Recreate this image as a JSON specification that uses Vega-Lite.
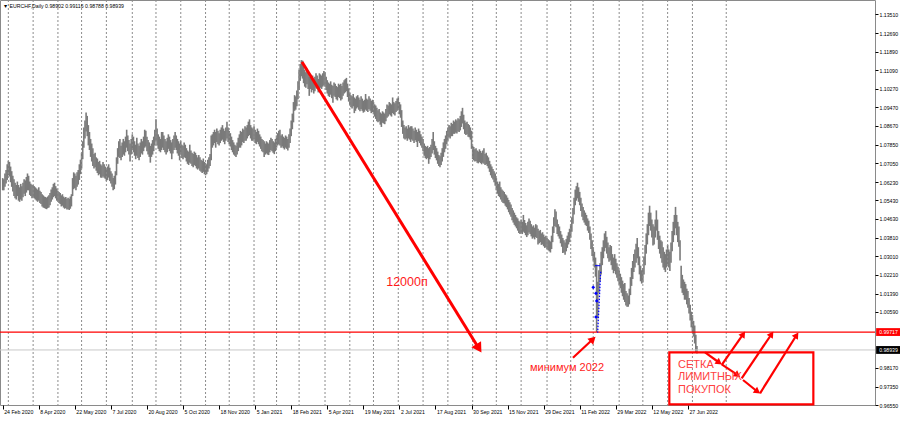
{
"$schema":"https://vega.github.io/schema/vega-lite/v6.json",
"width":875,"height":405,
"autosize":{"type":"none"},
"padding":{"left":0,"top":0,"right":25,"bottom":17},
"background":"white",
"config":{"view":{"stroke":"#8a8a8a","strokeWidth":1},"font":"Liberation Sans",
 "axis":{"title":null,"grid":false,"domain":false,"labelFontSize":5.2,"labelFont":"Liberation Sans","labelColor":"#000000","tickColor":"#000000","labelOverlap":false,"labelFlush":false,"labelBound":false}},
"datasets":{
"grid":[{"i":5},{"i":27},{"i":49},{"i":70},{"i":92},{"i":115},{"i":136},{"i":158},{"i":180},{"i":201},{"i":223},{"i":243},{"i":263},{"i":286},{"i":308},{"i":329},{"i":351},{"i":373},{"i":395},{"i":417},{"i":438},{"i":460},{"i":483},{"i":504},{"i":524},{"i":547},{"i":568},{"i":590},{"i":612},{"i":642}],
"bars":[
{"i":0,"h":1.064,"l":1.0587},{"i":1,"h":1.0635,"l":1.0587},{"i":2,"h":1.066,"l":1.0602},{"i":3,"h":1.0675,"l":1.0617},{"i":4,"h":1.07,"l":1.0632},{"i":5,"h":1.0715,"l":1.0652},{"i":6,"h":1.071,"l":1.0647},{"i":7,"h":1.069,"l":1.0622},{"i":8,"h":1.067,"l":1.0602},{"i":9,"h":1.065,"l":1.0582},
{"i":10,"h":1.0635,"l":1.0562},{"i":11,"h":1.062,"l":1.0552},{"i":12,"h":1.061,"l":1.0547},{"i":13,"h":1.0625,"l":1.0562},{"i":14,"h":1.061,"l":1.0542},{"i":15,"h":1.06,"l":1.0537},{"i":16,"h":1.0615,"l":1.0547},{"i":17,"h":1.0605,"l":1.0542},{"i":18,"h":1.062,"l":1.0557},{"i":19,"h":1.0635,"l":1.0572},
{"i":20,"h":1.063,"l":1.0562},{"i":21,"h":1.0645,"l":1.0577},{"i":22,"h":1.066,"l":1.0587},{"i":23,"h":1.065,"l":1.0587},{"i":24,"h":1.0625,"l":1.0567},{"i":25,"h":1.0615,"l":1.0562},{"i":26,"h":1.061,"l":1.0552},{"i":27,"h":1.061,"l":1.0557},{"i":28,"h":1.0605,"l":1.0552},{"i":29,"h":1.06,"l":1.0547},
{"i":30,"h":1.0595,"l":1.0542},{"i":31,"h":1.059,"l":1.0537},{"i":32,"h":1.06,"l":1.0542},{"i":33,"h":1.0585,"l":1.0532},{"i":34,"h":1.058,"l":1.0527},{"i":35,"h":1.057,"l":1.0517},{"i":36,"h":1.0565,"l":1.0512},{"i":37,"h":1.056,"l":1.051},{"i":38,"h":1.0558,"l":1.0507},{"i":39,"h":1.0555,"l":1.0505},
{"i":40,"h":1.056,"l":1.051},{"i":41,"h":1.0565,"l":1.0512},{"i":42,"h":1.0575,"l":1.0522},{"i":43,"h":1.059,"l":1.0537},{"i":44,"h":1.06,"l":1.0547},{"i":45,"h":1.0615,"l":1.0557},{"i":46,"h":1.062,"l":1.0562},{"i":47,"h":1.0605,"l":1.0552},{"i":48,"h":1.0595,"l":1.0542},{"i":49,"h":1.0585,"l":1.0537},
{"i":50,"h":1.058,"l":1.0532},{"i":51,"h":1.0575,"l":1.0527},{"i":52,"h":1.0565,"l":1.0517},{"i":53,"h":1.057,"l":1.052},{"i":54,"h":1.056,"l":1.0512},{"i":55,"h":1.0555,"l":1.0507},{"i":56,"h":1.0558,"l":1.051},{"i":57,"h":1.055,"l":1.0504},{"i":58,"h":1.0555,"l":1.0505},{"i":59,"h":1.055,"l":1.0502},
{"i":60,"h":1.056,"l":1.0507},{"i":61,"h":1.057,"l":1.0517},{"i":62,"h":1.064,"l":1.0562},{"i":63,"h":1.0665,"l":1.0592},{"i":64,"h":1.066,"l":1.0597},{"i":65,"h":1.065,"l":1.0587},{"i":66,"h":1.0665,"l":1.0602},{"i":67,"h":1.0675,"l":1.0612},{"i":68,"h":1.07,"l":1.0632},{"i":69,"h":1.072,"l":1.0657},
{"i":70,"h":1.075,"l":1.0682},{"i":71,"h":1.08,"l":1.0722},{"i":72,"h":1.086,"l":1.0772},{"i":73,"h":1.089,"l":1.0812},{"i":74,"h":1.0925,"l":1.0842},{"i":75,"h":1.091,"l":1.0822},{"i":76,"h":1.087,"l":1.0782},{"i":77,"h":1.084,"l":1.0762},{"i":78,"h":1.081,"l":1.0732},{"i":79,"h":1.079,"l":1.0712},
{"i":80,"h":1.077,"l":1.0692},{"i":81,"h":1.0745,"l":1.0682},{"i":82,"h":1.075,"l":1.0687},{"i":83,"h":1.073,"l":1.0672},{"i":84,"h":1.0725,"l":1.0662},{"i":85,"h":1.071,"l":1.0652},{"i":86,"h":1.0715,"l":1.0657},{"i":87,"h":1.07,"l":1.0642},{"i":88,"h":1.0695,"l":1.0642},{"i":89,"h":1.071,"l":1.0647},
{"i":90,"h":1.07,"l":1.0642},{"i":91,"h":1.069,"l":1.0637},{"i":92,"h":1.068,"l":1.0627},{"i":93,"h":1.069,"l":1.0632},{"i":94,"h":1.07,"l":1.0642},{"i":95,"h":1.0685,"l":1.0627},{"i":96,"h":1.067,"l":1.0617},{"i":97,"h":1.066,"l":1.0602},{"i":98,"h":1.064,"l":1.0587},{"i":99,"h":1.065,"l":1.0592},
{"i":100,"h":1.067,"l":1.0612},{"i":101,"h":1.073,"l":1.0652},{"i":102,"h":1.077,"l":1.0702},{"i":103,"h":1.08,"l":1.0732},{"i":104,"h":1.081,"l":1.0727},{"i":105,"h":1.078,"l":1.0717},{"i":106,"h":1.0795,"l":1.0732},{"i":107,"h":1.081,"l":1.0742},{"i":108,"h":1.08,"l":1.0737},{"i":109,"h":1.082,"l":1.0752},
{"i":110,"h":1.085,"l":1.0772},{"i":111,"h":1.0825,"l":1.0757},{"i":112,"h":1.0805,"l":1.0742},{"i":113,"h":1.079,"l":1.0712},{"i":114,"h":1.081,"l":1.0742},{"i":115,"h":1.083,"l":1.0762},{"i":116,"h":1.082,"l":1.0752},{"i":117,"h":1.08,"l":1.0737},{"i":118,"h":1.0785,"l":1.0722},{"i":119,"h":1.0815,"l":1.0737},
{"i":120,"h":1.079,"l":1.0727},{"i":121,"h":1.078,"l":1.0717},{"i":122,"h":1.0795,"l":1.0732},{"i":123,"h":1.081,"l":1.0747},{"i":124,"h":1.08,"l":1.0742},{"i":125,"h":1.082,"l":1.0757},{"i":126,"h":1.085,"l":1.0772},{"i":127,"h":1.0845,"l":1.0777},{"i":128,"h":1.082,"l":1.0757},{"i":129,"h":1.0805,"l":1.0742},
{"i":130,"h":1.0795,"l":1.0732},{"i":131,"h":1.078,"l":1.0707},{"i":132,"h":1.079,"l":1.0732},{"i":133,"h":1.0805,"l":1.0742},{"i":134,"h":1.082,"l":1.0757},{"i":135,"h":1.085,"l":1.0782},{"i":136,"h":1.0895,"l":1.0802},{"i":137,"h":1.0855,"l":1.0782},{"i":138,"h":1.083,"l":1.0767},{"i":139,"h":1.082,"l":1.0757},
{"i":140,"h":1.081,"l":1.0752},{"i":141,"h":1.084,"l":1.0762},{"i":142,"h":1.084,"l":1.0772},{"i":143,"h":1.0825,"l":1.0762},{"i":144,"h":1.081,"l":1.0752},{"i":145,"h":1.08,"l":1.0742},{"i":146,"h":1.0815,"l":1.0752},{"i":147,"h":1.083,"l":1.0767},{"i":148,"h":1.082,"l":1.0757},{"i":149,"h":1.0805,"l":1.0747},
{"i":150,"h":1.0795,"l":1.0722},{"i":151,"h":1.081,"l":1.0747},{"i":152,"h":1.0825,"l":1.0762},{"i":153,"h":1.084,"l":1.0772},{"i":154,"h":1.0825,"l":1.0762},{"i":155,"h":1.081,"l":1.0747},{"i":156,"h":1.08,"l":1.0737},{"i":157,"h":1.079,"l":1.0717},{"i":158,"h":1.08,"l":1.0742},{"i":159,"h":1.0785,"l":1.0727},
{"i":160,"h":1.078,"l":1.0722},{"i":161,"h":1.0795,"l":1.0732},{"i":162,"h":1.0785,"l":1.0727},{"i":163,"h":1.077,"l":1.0712},{"i":164,"h":1.076,"l":1.0702},{"i":165,"h":1.0755,"l":1.0697},{"i":166,"h":1.0785,"l":1.0707},{"i":167,"h":1.076,"l":1.0702},{"i":168,"h":1.075,"l":1.0692},{"i":169,"h":1.0745,"l":1.0687},
{"i":170,"h":1.0755,"l":1.0697},{"i":171,"h":1.075,"l":1.0692},{"i":172,"h":1.074,"l":1.0682},{"i":173,"h":1.073,"l":1.0677},{"i":174,"h":1.074,"l":1.0682},{"i":175,"h":1.073,"l":1.0672},{"i":176,"h":1.072,"l":1.0667},{"i":177,"h":1.0715,"l":1.0662},{"i":178,"h":1.0725,"l":1.0667},{"i":179,"h":1.071,"l":1.0657},
{"i":180,"h":1.0705,"l":1.0652},{"i":181,"h":1.07,"l":1.0657},{"i":182,"h":1.072,"l":1.0667},{"i":183,"h":1.073,"l":1.0682},{"i":184,"h":1.0745,"l":1.0692},{"i":185,"h":1.0825,"l":1.0717},{"i":186,"h":1.083,"l":1.0772},{"i":187,"h":1.084,"l":1.0782},{"i":188,"h":1.085,"l":1.0792},{"i":189,"h":1.084,"l":1.0772},
{"i":190,"h":1.0855,"l":1.0797},{"i":191,"h":1.0845,"l":1.0787},{"i":192,"h":1.0835,"l":1.0782},{"i":193,"h":1.085,"l":1.0792},{"i":194,"h":1.086,"l":1.0802},{"i":195,"h":1.087,"l":1.0807},{"i":196,"h":1.0855,"l":1.0797},{"i":197,"h":1.0845,"l":1.0787},{"i":198,"h":1.086,"l":1.0802},{"i":199,"h":1.0885,"l":1.0812},
{"i":200,"h":1.086,"l":1.0797},{"i":201,"h":1.0845,"l":1.0787},{"i":202,"h":1.0835,"l":1.0777},{"i":203,"h":1.082,"l":1.0762},{"i":204,"h":1.0805,"l":1.0752},{"i":205,"h":1.0795,"l":1.0742},{"i":206,"h":1.0785,"l":1.0737},{"i":207,"h":1.078,"l":1.0732},{"i":208,"h":1.0795,"l":1.0742},{"i":209,"h":1.0815,"l":1.0757},
{"i":210,"h":1.083,"l":1.0772},{"i":211,"h":1.0845,"l":1.0772},{"i":212,"h":1.084,"l":1.0782},{"i":213,"h":1.0855,"l":1.0797},{"i":214,"h":1.085,"l":1.0792},{"i":215,"h":1.0865,"l":1.0802},{"i":216,"h":1.086,"l":1.0802},{"i":217,"h":1.087,"l":1.0812},{"i":218,"h":1.0885,"l":1.0822},{"i":219,"h":1.0895,"l":1.0827},
{"i":220,"h":1.087,"l":1.0812},{"i":221,"h":1.086,"l":1.0802},{"i":222,"h":1.0855,"l":1.0802},{"i":223,"h":1.0865,"l":1.0807},{"i":224,"h":1.085,"l":1.0792},{"i":225,"h":1.084,"l":1.0787},{"i":226,"h":1.0855,"l":1.0797},{"i":227,"h":1.0845,"l":1.0787},{"i":228,"h":1.083,"l":1.0777},{"i":229,"h":1.082,"l":1.0767},
{"i":230,"h":1.081,"l":1.0757},{"i":231,"h":1.0805,"l":1.0752},{"i":232,"h":1.08,"l":1.0732},{"i":233,"h":1.079,"l":1.0742},{"i":234,"h":1.08,"l":1.0747},{"i":235,"h":1.0795,"l":1.0742},{"i":236,"h":1.079,"l":1.074},{"i":237,"h":1.0805,"l":1.0752},{"i":238,"h":1.0815,"l":1.0762},{"i":239,"h":1.081,"l":1.0757},
{"i":240,"h":1.08,"l":1.075},{"i":241,"h":1.0795,"l":1.0744},{"i":242,"h":1.081,"l":1.0757},{"i":243,"h":1.0825,"l":1.0772},{"i":244,"h":1.0835,"l":1.0782},{"i":245,"h":1.0845,"l":1.0787},{"i":246,"h":1.085,"l":1.0782},{"i":247,"h":1.0825,"l":1.0772},{"i":248,"h":1.083,"l":1.0777},{"i":249,"h":1.082,"l":1.077},
{"i":250,"h":1.0815,"l":1.0764},{"i":251,"h":1.0825,"l":1.0772},{"i":252,"h":1.082,"l":1.0767},{"i":253,"h":1.081,"l":1.076},{"i":254,"h":1.083,"l":1.0772},{"i":255,"h":1.0855,"l":1.0792},{"i":256,"h":1.089,"l":1.0822},{"i":257,"h":1.092,"l":1.0852},{"i":258,"h":1.097,"l":1.0882},{"i":259,"h":1.1,"l":1.0932},
{"i":260,"h":1.0995,"l":1.0937},{"i":261,"h":1.102,"l":1.0952},{"i":262,"h":1.106,"l":1.0982},{"i":263,"h":1.111,"l":1.1022},{"i":264,"h":1.1135,"l":1.1062},{"i":265,"h":1.1152,"l":1.1082},{"i":266,"h":1.115,"l":1.1072},{"i":267,"h":1.113,"l":1.1052},{"i":268,"h":1.111,"l":1.1037},{"i":269,"h":1.11,"l":1.1032},
{"i":270,"h":1.1115,"l":1.1047},{"i":271,"h":1.1095,"l":1.1027},{"i":272,"h":1.108,"l":1.0997},{"i":273,"h":1.109,"l":1.1027},{"i":274,"h":1.1075,"l":1.1012},{"i":275,"h":1.1085,"l":1.1022},{"i":276,"h":1.107,"l":1.1007},{"i":277,"h":1.108,"l":1.1017},{"i":278,"h":1.1095,"l":1.1032},{"i":279,"h":1.1085,"l":1.1027},
{"i":280,"h":1.107,"l":1.1012},{"i":281,"h":1.1095,"l":1.1022},{"i":282,"h":1.109,"l":1.1032},{"i":283,"h":1.1085,"l":1.1027},{"i":284,"h":1.1095,"l":1.1037},{"i":285,"h":1.1105,"l":1.1042},{"i":286,"h":1.11,"l":1.1037},{"i":287,"h":1.108,"l":1.1022},{"i":288,"h":1.1065,"l":1.1007},{"i":289,"h":1.1055,"l":1.0997},
{"i":290,"h":1.105,"l":1.0992},{"i":291,"h":1.106,"l":1.1002},{"i":292,"h":1.1045,"l":1.0987},{"i":293,"h":1.104,"l":1.0967},{"i":294,"h":1.1055,"l":1.0997},{"i":295,"h":1.105,"l":1.0992},{"i":296,"h":1.104,"l":1.0982},{"i":297,"h":1.1035,"l":1.0977},{"i":298,"h":1.105,"l":1.0992},{"i":299,"h":1.1045,"l":1.0987},
{"i":300,"h":1.105,"l":1.0977},{"i":301,"h":1.104,"l":1.0982},{"i":302,"h":1.1055,"l":1.0997},{"i":303,"h":1.1065,"l":1.1007},{"i":304,"h":1.107,"l":1.1012},{"i":305,"h":1.1075,"l":1.1017},{"i":306,"h":1.105,"l":1.0992},{"i":307,"h":1.103,"l":1.0972},{"i":308,"h":1.101,"l":1.0957},{"i":309,"h":1.1,"l":1.0947},
{"i":310,"h":1.0995,"l":1.0942},{"i":311,"h":1.1005,"l":1.0952},{"i":312,"h":1.099,"l":1.0922},{"i":313,"h":1.0985,"l":1.0932},{"i":314,"h":1.0995,"l":1.0942},{"i":315,"h":1.1,"l":1.0947},{"i":316,"h":1.099,"l":1.0937},{"i":317,"h":1.098,"l":1.093},{"i":318,"h":1.0995,"l":1.094},{"i":319,"h":1.0985,"l":1.0932},
{"i":320,"h":1.0975,"l":1.0924},{"i":321,"h":1.098,"l":1.0928},{"i":322,"h":1.1005,"l":1.0937},{"i":323,"h":1.0985,"l":1.0932},{"i":324,"h":1.098,"l":1.0927},{"i":325,"h":1.0995,"l":1.094},{"i":326,"h":1.0985,"l":1.0932},{"i":327,"h":1.0975,"l":1.0922},{"i":328,"h":1.098,"l":1.0927},{"i":329,"h":1.097,"l":1.0917},
{"i":330,"h":1.096,"l":1.0907},{"i":331,"h":1.0955,"l":1.0897},{"i":332,"h":1.0945,"l":1.0887},{"i":333,"h":1.0935,"l":1.0882},{"i":334,"h":1.094,"l":1.0887},{"i":335,"h":1.0925,"l":1.0872},{"i":336,"h":1.092,"l":1.0862},{"i":337,"h":1.093,"l":1.088},{"i":338,"h":1.0925,"l":1.0877},{"i":339,"h":1.092,"l":1.0874},
{"i":340,"h":1.094,"l":1.0887},{"i":341,"h":1.096,"l":1.0902},{"i":342,"h":1.0955,"l":1.0907},{"i":343,"h":1.097,"l":1.0917},{"i":344,"h":1.0965,"l":1.0912},{"i":345,"h":1.096,"l":1.0907},{"i":346,"h":1.099,"l":1.0922},{"i":347,"h":1.097,"l":1.0917},{"i":348,"h":1.0965,"l":1.0912},{"i":349,"h":1.0975,"l":1.0927},
{"i":350,"h":1.0985,"l":1.0932},{"i":351,"h":1.099,"l":1.0937},{"i":352,"h":1.097,"l":1.0917},{"i":353,"h":1.096,"l":1.0902},{"i":354,"h":1.0935,"l":1.0862},{"i":355,"h":1.089,"l":1.0832},{"i":356,"h":1.087,"l":1.0812},{"i":357,"h":1.086,"l":1.0807},{"i":358,"h":1.0865,"l":1.0812},{"i":359,"h":1.0855,"l":1.0802},
{"i":360,"h":1.087,"l":1.0812},{"i":361,"h":1.086,"l":1.0807},{"i":362,"h":1.0865,"l":1.0797},{"i":363,"h":1.0865,"l":1.0807},{"i":364,"h":1.0855,"l":1.0802},{"i":365,"h":1.0845,"l":1.0792},{"i":366,"h":1.086,"l":1.0804},{"i":367,"h":1.085,"l":1.0797},{"i":368,"h":1.084,"l":1.0775},{"i":369,"h":1.0855,"l":1.08},
{"i":370,"h":1.0845,"l":1.0792},{"i":371,"h":1.083,"l":1.0782},{"i":372,"h":1.082,"l":1.0772},{"i":373,"h":1.081,"l":1.0757},{"i":374,"h":1.079,"l":1.0737},{"i":375,"h":1.078,"l":1.0727},{"i":376,"h":1.0775,"l":1.0722},{"i":377,"h":1.078,"l":1.0727},{"i":378,"h":1.077,"l":1.0702},{"i":379,"h":1.0775,"l":1.0722},
{"i":380,"h":1.0785,"l":1.0732},{"i":381,"h":1.081,"l":1.0747},{"i":382,"h":1.084,"l":1.0762},{"i":383,"h":1.08,"l":1.0742},{"i":384,"h":1.078,"l":1.0727},{"i":385,"h":1.077,"l":1.0717},{"i":386,"h":1.0755,"l":1.0702},{"i":387,"h":1.074,"l":1.0692},{"i":388,"h":1.0735,"l":1.0687},{"i":389,"h":1.075,"l":1.0697},
{"i":390,"h":1.077,"l":1.0712},{"i":391,"h":1.0795,"l":1.0732},{"i":392,"h":1.081,"l":1.0752},{"i":393,"h":1.0825,"l":1.0767},{"i":394,"h":1.0845,"l":1.0787},{"i":395,"h":1.086,"l":1.0802},{"i":396,"h":1.087,"l":1.0817},{"i":397,"h":1.0865,"l":1.0812},{"i":398,"h":1.088,"l":1.0822},{"i":399,"h":1.0875,"l":1.0822},
{"i":400,"h":1.089,"l":1.0832},{"i":401,"h":1.0885,"l":1.0832},{"i":402,"h":1.0895,"l":1.0837},{"i":403,"h":1.089,"l":1.0834},{"i":404,"h":1.09,"l":1.0842},{"i":405,"h":1.0895,"l":1.084},{"i":406,"h":1.091,"l":1.0847},{"i":407,"h":1.093,"l":1.0862},{"i":408,"h":1.0945,"l":1.0877},{"i":409,"h":1.0915,"l":1.0852},
{"i":410,"h":1.089,"l":1.0832},{"i":411,"h":1.088,"l":1.0827},{"i":412,"h":1.0885,"l":1.083},{"i":413,"h":1.0875,"l":1.082},{"i":414,"h":1.087,"l":1.0817},{"i":415,"h":1.086,"l":1.0807},{"i":416,"h":1.0845,"l":1.0767},{"i":417,"h":1.078,"l":1.0722},{"i":418,"h":1.0775,"l":1.0717},{"i":419,"h":1.0765,"l":1.0712},
{"i":420,"h":1.077,"l":1.0714},{"i":421,"h":1.076,"l":1.0707},{"i":422,"h":1.0755,"l":1.0704},{"i":423,"h":1.0765,"l":1.071},{"i":424,"h":1.0758,"l":1.0705},{"i":425,"h":1.075,"l":1.07},{"i":426,"h":1.076,"l":1.0707},{"i":427,"h":1.077,"l":1.0702},{"i":428,"h":1.0745,"l":1.0697},{"i":429,"h":1.075,"l":1.07},
{"i":430,"h":1.0738,"l":1.0692},{"i":431,"h":1.073,"l":1.0682},{"i":432,"h":1.0715,"l":1.0667},{"i":433,"h":1.07,"l":1.0652},{"i":434,"h":1.069,"l":1.0642},{"i":435,"h":1.068,"l":1.0634},{"i":436,"h":1.067,"l":1.0622},{"i":437,"h":1.066,"l":1.0607},{"i":438,"h":1.064,"l":1.0587},{"i":439,"h":1.0625,"l":1.0572},
{"i":440,"h":1.0615,"l":1.0562},{"i":441,"h":1.0625,"l":1.0557},{"i":442,"h":1.06,"l":1.0547},{"i":443,"h":1.059,"l":1.0537},{"i":444,"h":1.0585,"l":1.0532},{"i":445,"h":1.058,"l":1.053},{"i":446,"h":1.057,"l":1.052},{"i":447,"h":1.0565,"l":1.0514},{"i":448,"h":1.0555,"l":1.0504},{"i":449,"h":1.0545,"l":1.0492},
{"i":450,"h":1.0535,"l":1.0482},{"i":451,"h":1.0525,"l":1.0472},{"i":452,"h":1.051,"l":1.0457},{"i":453,"h":1.05,"l":1.0447},{"i":454,"h":1.049,"l":1.0437},{"i":455,"h":1.048,"l":1.043},{"i":456,"h":1.047,"l":1.0422},{"i":457,"h":1.0465,"l":1.0412},{"i":458,"h":1.0455,"l":1.0402},{"i":459,"h":1.045,"l":1.0397},
{"i":460,"h":1.046,"l":1.0402},{"i":461,"h":1.045,"l":1.0397},{"i":462,"h":1.048,"l":1.0407},{"i":463,"h":1.0458,"l":1.0402},{"i":464,"h":1.0445,"l":1.0392},{"i":465,"h":1.0435,"l":1.0384},{"i":466,"h":1.045,"l":1.0392},{"i":467,"h":1.0465,"l":1.0404},{"i":468,"h":1.0455,"l":1.0397},{"i":469,"h":1.044,"l":1.0387},
{"i":470,"h":1.043,"l":1.0377},{"i":471,"h":1.0435,"l":1.0382},{"i":472,"h":1.0425,"l":1.0374},{"i":473,"h":1.044,"l":1.0384},{"i":474,"h":1.0435,"l":1.038},{"i":475,"h":1.042,"l":1.0352},{"i":476,"h":1.041,"l":1.0357},{"i":477,"h":1.0415,"l":1.0362},{"i":478,"h":1.04,"l":1.035},{"i":479,"h":1.0405,"l":1.0352},
{"i":480,"h":1.0395,"l":1.0344},{"i":481,"h":1.0385,"l":1.0337},{"i":482,"h":1.039,"l":1.034},{"i":483,"h":1.038,"l":1.0332},{"i":484,"h":1.0375,"l":1.0327},{"i":485,"h":1.037,"l":1.0322},{"i":486,"h":1.0365,"l":1.0317},{"i":487,"h":1.039,"l":1.0332},{"i":488,"h":1.043,"l":1.0362},{"i":489,"h":1.047,"l":1.0402},
{"i":490,"h":1.0505,"l":1.0432},{"i":491,"h":1.0495,"l":1.0427},{"i":492,"h":1.046,"l":1.0397},{"i":493,"h":1.044,"l":1.0387},{"i":494,"h":1.043,"l":1.0377},{"i":495,"h":1.041,"l":1.0357},{"i":496,"h":1.0395,"l":1.0342},{"i":497,"h":1.038,"l":1.0315},{"i":498,"h":1.037,"l":1.0317},{"i":499,"h":1.036,"l":1.0307},
{"i":500,"h":1.0375,"l":1.0322},{"i":501,"h":1.039,"l":1.0337},{"i":502,"h":1.0405,"l":1.0352},{"i":503,"h":1.042,"l":1.0362},{"i":504,"h":1.044,"l":1.0382},{"i":505,"h":1.047,"l":1.0407},{"i":506,"h":1.051,"l":1.0442},{"i":507,"h":1.0555,"l":1.0482},{"i":508,"h":1.059,"l":1.0522},{"i":509,"h":1.0605,"l":1.0542},
{"i":510,"h":1.062,"l":1.0552},{"i":511,"h":1.06,"l":1.0537},{"i":512,"h":1.058,"l":1.0522},{"i":513,"h":1.0555,"l":1.0497},{"i":514,"h":1.053,"l":1.0472},{"i":515,"h":1.0515,"l":1.0457},{"i":516,"h":1.05,"l":1.0447},{"i":517,"h":1.049,"l":1.0437},{"i":518,"h":1.048,"l":1.0432},{"i":519,"h":1.0465,"l":1.0412},
{"i":520,"h":1.0455,"l":1.0402},{"i":521,"h":1.043,"l":1.0372},{"i":522,"h":1.04,"l":1.0332},{"i":523,"h":1.037,"l":1.0302},{"i":524,"h":1.034,"l":1.0282},{"i":525,"h":1.032,"l":1.0252},{"i":526,"h":1.0295,"l":1.0212},{"i":527,"h":1.0265,"l":0.9972},{"i":528,"h":1.019,"l":1.0032},{"i":529,"h":1.024,"l":1.0142},
{"i":530,"h":1.027,"l":1.0192},{"i":531,"h":1.032,"l":1.0222},{"i":532,"h":1.034,"l":1.0262},{"i":533,"h":1.037,"l":1.0292},{"i":534,"h":1.04,"l":1.0322},{"i":535,"h":1.041,"l":1.0337},{"i":536,"h":1.0385,"l":1.0312},{"i":537,"h":1.036,"l":1.0292},{"i":538,"h":1.034,"l":1.0277},{"i":539,"h":1.035,"l":1.0282},
{"i":540,"h":1.0345,"l":1.0262},{"i":541,"h":1.031,"l":1.0242},{"i":542,"h":1.0295,"l":1.0227},{"i":543,"h":1.031,"l":1.0237},{"i":544,"h":1.029,"l":1.0222},{"i":545,"h":1.027,"l":1.0207},{"i":546,"h":1.0255,"l":1.0192},{"i":547,"h":1.024,"l":1.0177},{"i":548,"h":1.0225,"l":1.0162},{"i":549,"h":1.021,"l":1.0142},
{"i":550,"h":1.0195,"l":1.0127},{"i":551,"h":1.018,"l":1.0112},{"i":552,"h":1.0185,"l":1.0102},{"i":553,"h":1.015,"l":1.0087},{"i":554,"h":1.014,"l":1.0082},{"i":555,"h":1.013,"l":1.0082},{"i":556,"h":1.016,"l":1.0092},{"i":557,"h":1.021,"l":1.0132},{"i":558,"h":1.025,"l":1.0172},{"i":559,"h":1.028,"l":1.0202},
{"i":560,"h":1.031,"l":1.0232},{"i":561,"h":1.033,"l":1.0252},{"i":562,"h":1.0355,"l":1.0272},{"i":563,"h":1.038,"l":1.0292},{"i":564,"h":1.034,"l":1.0262},{"i":565,"h":1.03,"l":1.0222},{"i":566,"h":1.026,"l":1.0192},{"i":567,"h":1.024,"l":1.0182},{"i":568,"h":1.025,"l":1.0187},{"i":569,"h":1.03,"l":1.0222},
{"i":570,"h":1.035,"l":1.0262},{"i":571,"h":1.04,"l":1.0312},{"i":572,"h":1.044,"l":1.0352},{"i":573,"h":1.049,"l":1.0392},{"i":574,"h":1.052,"l":1.0432},{"i":575,"h":1.049,"l":1.0412},{"i":576,"h":1.046,"l":1.0382},{"i":577,"h":1.044,"l":1.0347},{"i":578,"h":1.043,"l":1.0352},{"i":579,"h":1.046,"l":1.0382},
{"i":580,"h":1.05,"l":1.0412},{"i":581,"h":1.046,"l":1.0372},{"i":582,"h":1.041,"l":1.0332},{"i":583,"h":1.039,"l":1.0312},{"i":584,"h":1.037,"l":1.0292},{"i":585,"h":1.0365,"l":1.0272},{"i":586,"h":1.034,"l":1.0252},{"i":587,"h":1.032,"l":1.0242},{"i":588,"h":1.031,"l":1.0232},{"i":589,"h":1.033,"l":1.0252},
{"i":590,"h":1.035,"l":1.0267},{"i":591,"h":1.033,"l":1.0252},{"i":592,"h":1.032,"l":1.0237},{"i":593,"h":1.036,"l":1.0272},{"i":594,"h":1.041,"l":1.0322},{"i":595,"h":1.045,"l":1.0362},{"i":596,"h":1.048,"l":1.0392},{"i":597,"h":1.0515,"l":1.0422},{"i":598,"h":1.048,"l":1.0392},{"i":599,"h":1.045,"l":1.0362},
{"i":600,"h":1.043,"l":1.0342},{"i":601,"h":1.037,"l":1.0282},{"i":602,"h":1.026,"l":1.0162},{"i":603,"h":1.022,"l":1.0142},{"i":604,"h":1.02,"l":1.0132},{"i":605,"h":1.019,"l":1.0112},{"i":606,"h":1.018,"l":1.0112},{"i":607,"h":1.016,"l":1.0092},{"i":608,"h":1.015,"l":1.0077},{"i":609,"h":1.012,"l":1.0052},
{"i":610,"h":1.009,"l":1.0022},{"i":611,"h":1.006,"l":0.9992},{"i":612,"h":1.0045,"l":0.9972},{"i":613,"h":1.002,"l":0.9952},{"i":614,"h":1.0,"l":0.9922},{"i":615,"h":0.996,"l":0.9882},{"i":616,"h":0.99116,"l":0.98788}
],
"segs":[
{"x":506.0,"y":0.98599,"x2":522.9,"y2":0.99372},
{"x":623.2,"y":0.98838,"x2":635.0,"y2":0.98417},
{"x":638.0,"y":0.98317,"x2":651.3,"y2":0.97878},
{"x":656.9,"y":0.97635,"x2":669.0,"y2":0.97158},
{"x":638.0,"y":0.98287,"x2":656.6,"y2":0.99589},
{"x":655.7,"y":0.97709,"x2":681.7,"y2":0.99589},
{"x":672.0,"y":0.97058,"x2":703.9,"y2":0.99546}
],
"downHeads":[{"x":635.0,"y":0.98417},{"x":651.3,"y":0.97878},{"x":669.0,"y":0.97158}],
"upHeads":[{"x":656.6,"y":0.99589},{"x":681.7,"y":0.99589},{"x":703.9,"y":0.99546}],
"tags":[{"t":"0.99717","v":0.99717,"lo":0.99547,"hi":0.99887,"x":775.0,"x2":797.0},{"t":"0.98939","v":0.98939,"lo":0.98769,"hi":0.99109,"x":775.0,"x2":797.0}],
"blueDots":[{"x":524.0,"y":1.01659},{"x":526.4,"y":1.01399},{"x":527.1,"y":1.01065},{"x":526.4,"y":1.0037}]
},
"layer":[
{"data":{"name":"bars"},"mark":{"type":"rule","stroke":"#7a7a7a","strokeWidth":1.6},
 "encoding":{
  "x":{"field":"i","type":"quantitative","scale":{"domain":[-2.396,774.0],"nice":false,"zero":false},
   "axis":{"values":[0,32,64,96,128,160,192,224,256,288,320,352,384,416,448,480,512,544,576,608],"tickCount":60,
    "labelExpr":"['24 Feb 2020','8 Apr 2020','22 May 2020','7 Jul 2020','20 Aug 2020','5 Oct 2020','18 Nov 2020','5 Jan 2021','18 Feb 2021','5 Apr 2021','19 May 2021','2 Jul 2021','17 Aug 2021','30 Sep 2021','15 Nov 2021','29 Dec 2021','11 Feb 2022','29 Mar 2022','12 May 2022','27 Jun 2022'][round(datum.value/32)]",
    "title":null,"orient":"bottom","grid":false,"domain":false,"ticks":true,"tickSize":4,"labelAlign":"left","labelBaseline":"top","labelPadding":0,"labelOffset":1,"labelOverlap":false,"labelFlush":false,"labelBound":false}},
  "y":{"field":"l","type":"quantitative","scale":{"domain":[0.9655,1.14131],"nice":false,"zero":false},
   "axis":{"orient":"right","values":[1.1351,1.1269,1.1189,1.1109,1.1027,1.0947,1.0867,1.0785,1.0705,1.0623,1.0543,1.0463,1.0381,1.0301,1.0221,1.0139,1.0059,0.9817,0.9735,0.9655],"tickCount":60,
    "format":".5f","title":null,"grid":false,"domain":false,"ticks":true,"tickSize":3,"labelPadding":1,"labelBaseline":"middle","labelOverlap":false,"labelFlush":false,"labelBound":false}},
  "y2":{"field":"h"}}},
{"data":{"name":"grid"},"mark":{"type":"rule","stroke":"#8c8c8c","strokeDash":[2,2],"strokeWidth":1},
 "encoding":{"x":{"field":"i","type":"quantitative","axis":{"title":null}}}},
{"data":{"values":[{"v":0.98939}]},"mark":{"type":"rule","stroke":"#c8c8c8","strokeWidth":1},
 "encoding":{"y":{"field":"v","type":"quantitative","axis":{"title":null}}}},
{"data":{"values":[{"v":0.99717}]},"mark":{"type":"rule","stroke":"#ff0000","strokeWidth":1.2},
 "encoding":{"y":{"field":"v","type":"quantitative","axis":{"title":null}}}},
{"data":{"values":[{"x":530.6,"y":1.02338,"x2":527.9,"y2":0.99693}]},"mark":{"type":"rule","stroke":"#0000ff","strokeWidth":1.3,"strokeDash":[1.5,1.5]},
 "encoding":{"x":{"field":"x","type":"quantitative","axis":{"title":null}},"y":{"field":"y","type":"quantitative","axis":{"title":null}},"x2":{"field":"x2"},"y2":{"field":"y2"}}},
{"data":{"values":[{"x":525.5,"y":1.02597,"x2":530.2,"y2":1.02597}]},"mark":{"type":"rule","stroke":"#0000ff","strokeWidth":1},
 "encoding":{"x":{"field":"x","type":"quantitative","axis":{"title":null}},"y":{"field":"y","type":"quantitative","axis":{"title":null}},"x2":{"field":"x2"},"y2":{"field":"y2"}}},
{"data":{"name":"blueDots"},"mark":{"type":"point","shape":"diamond","filled":true,"color":"#0000ff","size":14,"opacity":1},
 "encoding":{"x":{"field":"x","type":"quantitative","axis":{"title":null}},"y":{"field":"y","type":"quantitative","axis":{"title":null}}}},
{"data":{"values":[{"x":265.6,"y":1.1144,"x2":421.7,"y2":0.99068}]},"mark":{"type":"rule","stroke":"#ff0000","strokeWidth":3},
 "encoding":{"x":{"field":"x","type":"quantitative","axis":{"title":null}},"y":{"field":"y","type":"quantitative","axis":{"title":null}},"x2":{"field":"x2"},"y2":{"field":"y2"}}},
{"data":{"name":"segs"},"mark":{"type":"rule","stroke":"#ff0000","strokeWidth":2.2},
 "encoding":{"x":{"field":"x","type":"quantitative","axis":{"title":null}},"y":{"field":"y","type":"quantitative","axis":{"title":null}},"x2":{"field":"x2"},"y2":{"field":"y2"}}},
{"data":{"values":[{"x":421.7,"y":0.99068}]},"mark":{"type":"point","shape":"triangle","filled":true,"color":"#ff0000","opacity":1,"size":130,"angle":148},
 "encoding":{"x":{"field":"x","type":"quantitative","axis":{"title":null}},"y":{"field":"y","type":"quantitative","axis":{"title":null}}}},
{"data":{"values":[{"x":522.9,"y":0.99372}]},"mark":{"type":"point","shape":"triangle","filled":true,"color":"#ff0000","opacity":1,"size":70,"angle":46},
 "encoding":{"x":{"field":"x","type":"quantitative","axis":{"title":null}},"y":{"field":"y","type":"quantitative","axis":{"title":null}}}},
{"data":{"name":"downHeads"},"mark":{"type":"point","shape":"triangle","filled":true,"color":"#ff0000","opacity":1,"size":55,"angle":126},
 "encoding":{"x":{"field":"x","type":"quantitative","axis":{"title":null}},"y":{"field":"y","type":"quantitative","axis":{"title":null}}}},
{"data":{"name":"upHeads"},"mark":{"type":"point","shape":"triangle","filled":true,"color":"#ff0000","opacity":1,"size":55,"angle":34},
 "encoding":{"x":{"field":"x","type":"quantitative","axis":{"title":null}},"y":{"field":"y","type":"quantitative","axis":{"title":null}}}},
{"data":{"values":[{"x":591.5,"y":0.96581,"x2":719.3,"y2":0.98838}]},"mark":{"type":"rect","fillOpacity":0,"stroke":"#ff0000","strokeWidth":2.2},
 "encoding":{"x":{"field":"x","type":"quantitative","axis":{"title":null}},"y":{"field":"y","type":"quantitative","axis":{"title":null}},"x2":{"field":"x2"},"y2":{"field":"y2"}}},
{"data":{"name":"tags"},"mark":{"type":"rect"},
 "encoding":{"x":{"field":"x","type":"quantitative","axis":{"title":null}},"x2":{"field":"x2"},"y":{"field":"lo","type":"quantitative","axis":{"title":null}},"y2":{"field":"hi"},
  "color":{"field":"t","type":"nominal","scale":{"domain":["0.99717","0.98939"],"range":["#ff0000","#000000"]},"legend":null}}},
{"data":{"name":"tags"},"mark":{"type":"text","align":"left","baseline":"middle","dx":3,"fontSize":5.2,"font":"Liberation Sans","color":"#ffffff"},
 "encoding":{"x":{"field":"x","type":"quantitative","axis":{"title":null}},"y":{"field":"v","type":"quantitative","axis":{"title":null}},"text":{"field":"t"}}},
{"data":{"values":[{"x":358.7,"y":1.0189,"t":"12000п"}]},"mark":{"type":"text","align":"center","baseline":"middle","fontSize":12.5,"font":"Liberation Sans","color":"#ff1a1a"},
 "encoding":{"x":{"field":"x","type":"quantitative","axis":{"title":null}},"y":{"field":"y","type":"quantitative","axis":{"title":null}},"text":{"field":"t"}}},
{"data":{"values":[{"x":500.7,"y":0.98156,"t":"минимум 2022"}]},"mark":{"type":"text","align":"center","baseline":"middle","fontSize":11,"font":"Liberation Sans","color":"#ff1a1a"},
 "encoding":{"x":{"field":"x","type":"quantitative","axis":{"title":null}},"y":{"field":"y","type":"quantitative","axis":{"title":null}},"text":{"field":"t"}}},
{"data":{"values":[{"x":599.2,"y":0.98308,"t":"СЕТКА"},{"x":599.2,"y":0.97744,"t":"ЛИМИТНЫХ"},{"x":599.2,"y":0.97201,"t":"ПОКУПОК"}]},"mark":{"type":"text","align":"left","baseline":"middle","fontSize":11,"font":"Liberation Sans Narrow, Liberation Sans","color":"#ff4040"},
 "encoding":{"x":{"field":"x","type":"quantitative","axis":{"title":null}},"y":{"field":"y","type":"quantitative","axis":{"title":null}},"text":{"field":"t"}}},
{"data":{"values":[{"x":0.3,"y":1.1389,"t":"▼ EURCHF,Daily  0.98902 0.99116 0.98788 0.98939"}]},"mark":{"type":"text","align":"left","baseline":"middle","fontSize":5.2,"font":"Liberation Sans","color":"#000000"},
 "encoding":{"x":{"field":"x","type":"quantitative","axis":{"title":null}},"y":{"field":"y","type":"quantitative","axis":{"title":null}},"text":{"field":"t"}}}
]
}
